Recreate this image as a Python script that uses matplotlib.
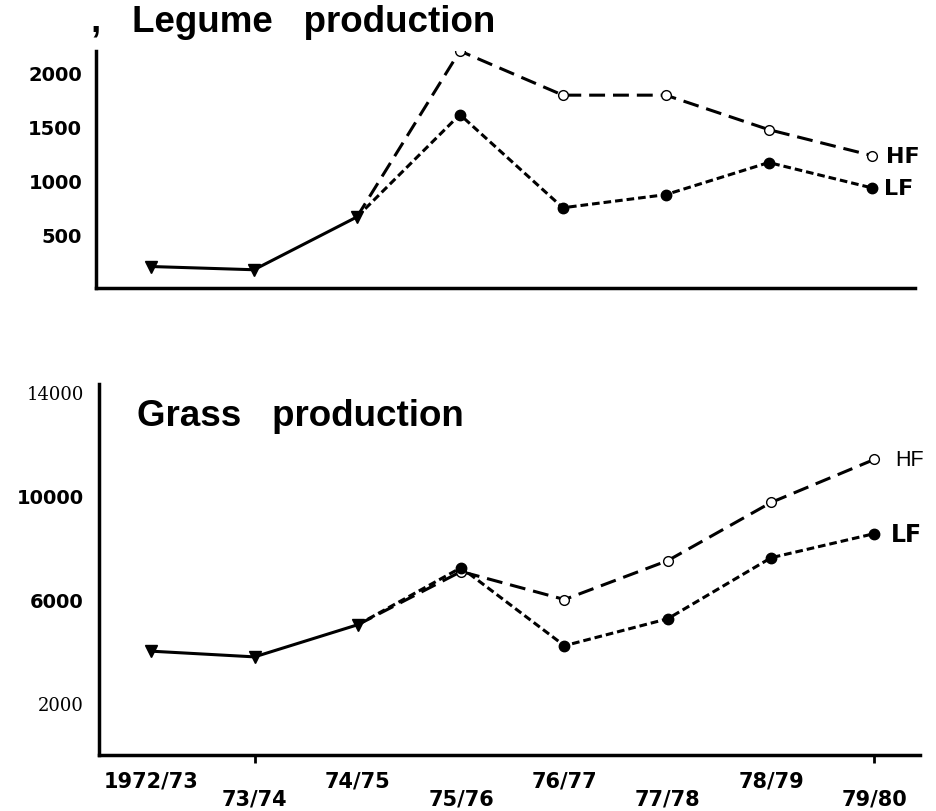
import matplotlib
matplotlib.use("Agg")
import matplotlib.pyplot as plt

seasons = ["1972/73", "73/74", "74/75", "75/76", "76/77", "77/78", "78/79", "79/80"]

# legume production (common treatment up to 74/75, then HF / LF)
legume_common = [200, 170, 660]
legume_hf = [2200, 1790, 1790, 1470, 1230]
legume_lf = [1610, 745, 867, 1165, 930]

# grass production
grass_common = [4000, 3780, 5020]
grass_hf = [7070, 5990, 7490, 9730, 11390]
grass_lf = [7220, 4210, 5250, 7600, 8530]

fig = plt.figure(figsize=(9.37, 8.12), dpi=100)
ax1 = fig.add_axes([0.1025, 0.644, 0.874, 0.292])
ax2 = fig.add_axes([0.1057, 0.069, 0.876, 0.457])

hf_style = dict(color="black", lw=2.2, linestyle=(0, (5.2, 2.6)),
                marker="o", markersize=7, markerfacecolor="white",
                markeredgecolor="black", markeredgewidth=1.0)
lf_style = dict(color="black", lw=2.2, linestyle=(0, (2.5, 1.3)),
                marker="o", markersize=7.5, markerfacecolor="black",
                markeredgecolor="black")


def draw_panel(ax, common, hf, lf):
    n = len(common)
    x_common = list(range(n))
    x_late = list(range(n - 1, n + len(hf)))
    ax.plot(x_late, [common[-1]] + hf, markevery=list(range(1, len(hf) + 1)), **hf_style)
    ax.plot(x_late, [common[-1]] + lf, markevery=list(range(1, len(lf) + 1)), **lf_style)
    ax.plot(x_common, common, color="black", lw=2.2, marker="v",
            markersize=8, zorder=5)
    for side in ["top", "right"]:
        ax.spines[side].set_visible(False)
    ax.spines["left"].set_linewidth(2.5)
    ax.spines["bottom"].set_linewidth(2.5)
    return len(seasons) - 1, hf[-1], lf[-1]


# top panel: legume
xl, hf_last, lf_last = draw_panel(ax1, legume_common, legume_hf, legume_lf)
ax1.set_xlim(-0.534, 7.42)
ax1.set_ylim(0, 2200)
ax1.set_xticks([])
ax1.set_yticks([500, 1000, 1500, 2000])
ax1.set_yticklabels(["500", "1000", "1500", "2000"],
                    fontfamily="DejaVu Sans", fontweight="bold", fontsize=14)
ax1.tick_params(axis="y", length=0, pad=10)
ax1.annotate("HF", (xl, hf_last), xytext=(10, 0), textcoords="offset points",
             ha="left", va="center", fontsize=16, fontweight="bold",
             fontfamily="DejaVu Sans", annotation_clip=False)
ax1.annotate("LF", (xl, lf_last), xytext=(9, 0), textcoords="offset points",
             ha="left", va="center", fontsize=16, fontweight="bold",
             fontfamily="DejaVu Sans", annotation_clip=False)
fig.text(0.097, 1 - 23 / 812, ",   Legume   production", ha="left", va="center",
         fontsize=26.5, fontweight="bold", fontfamily="Liberation Sans")

# bottom panel: grass
xl, hf_last, lf_last = draw_panel(ax2, grass_common, grass_hf, grass_lf)
ax2.set_xlim(-0.505, 7.44)
ax2.set_ylim(0, 14300)
ax2.set_yticks([2000, 6000, 10000, 14000])
ytl = ax2.set_yticklabels(["2000", "6000", "10000", "14000"], fontsize=14)
for lab in ytl:
    if lab.get_text() in ("2000", "14000"):
        lab.set_fontfamily("DejaVu Serif")
        lab.set_fontsize(13)
    else:
        lab.set_fontfamily("DejaVu Sans")
        lab.set_fontweight("bold")
ax2.tick_params(axis="y", length=0, pad=11)

positions = list(range(len(seasons)))
ax2.set_xticks(positions[0::2])
ax2.set_xticklabels(seasons[0::2], fontsize=15, fontweight="bold",
                    fontfamily="DejaVu Sans")
ax2.set_xticks(positions[1::2], minor=True)
ax2.set_xticklabels(seasons[1::2], minor=True, fontsize=15, fontweight="bold",
                    fontfamily="DejaVu Sans")
ax2.tick_params(axis="x", which="major", length=0, pad=11)
ax2.tick_params(axis="x", which="minor", length=6, width=2, direction="out", pad=18)
for i, t in enumerate(ax2.xaxis.get_minor_ticks()):
    if seasons[1::2][i] in ("75/76", "77/78"):
        t.tick1line.set_visible(False)

ax2.annotate("HF", (xl, hf_last), xytext=(15, 0), textcoords="offset points",
             ha="left", va="center", fontsize=15.5, fontfamily="Liberation Sans",
             annotation_clip=False)
ax2.annotate("LF", (xl, lf_last), xytext=(12, 0), textcoords="offset points",
             ha="left", va="center", fontsize=17, fontweight="bold",
             fontfamily="DejaVu Sans", annotation_clip=False)
ax2.text(0.046, 0.915, "Grass   production", transform=ax2.transAxes,
         ha="left", va="center", fontsize=26.5, fontweight="bold",
         fontfamily="Liberation Sans")

fig.savefig("out.png", dpi=100)
